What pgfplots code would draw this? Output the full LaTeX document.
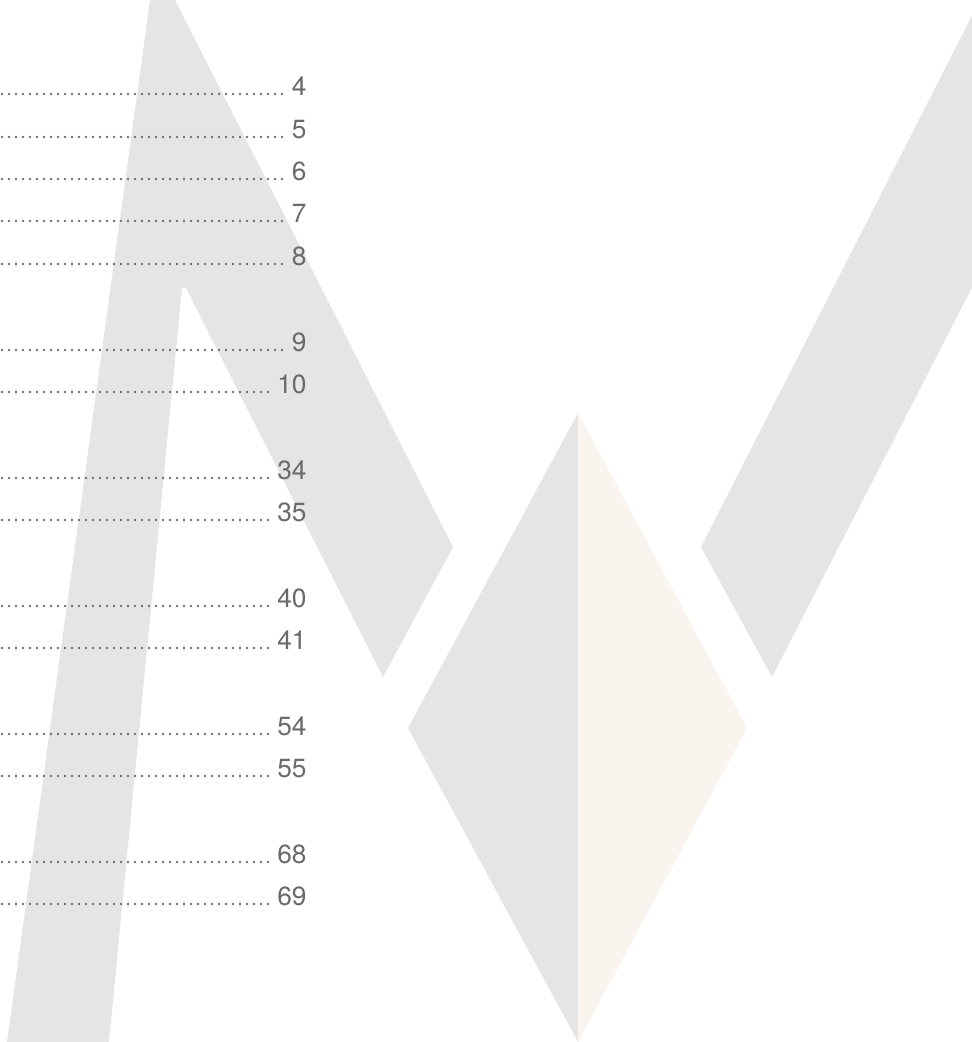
\documentclass[border=0pt]{standalone}
\usepackage{fontspec}
\setmainfont{TeX Gyre Heros}
\usepackage{pgfplots}
\pgfplotsset{compat=1.18}
\definecolor{shapegray}{HTML}{E5E5E5}
\definecolor{shapecream}{HTML}{F9F5EE}
\definecolor{numcol}{HTML}{6A6A6A}
\definecolor{dotcol}{HTML}{6E6E6E}
\newcommand{\leader}[3]{%
  \addplot[draw=dotcol, line width=1.35bp, line cap=round, dash pattern=on 0pt off 3.5bp, forget plot]
    coordinates {(2,#1+8) (#2,#1+8)};
  \node[anchor=base east, font=\fontsize{13.2}{15}\selectfont, text=numcol, inner sep=0pt]
    at (axis cs:307,#1+9) {#3};
}
\begin{document}
\begin{tikzpicture}
\begin{axis}[
  scale only axis, width=486bp, height=521bp,
  xmin=0, xmax=972, ymin=0, ymax=1042, y dir=reverse,
  hide axis, clip=true,
]
% left "A"-like shape
\addplot[fill=shapegray, draw=none] coordinates {
  (150,0) (175,0) (453,547) (383,677) (186,288) (182,288) (109,1042) (7,1042)
} -- cycle;
% diamond, left half grey
\addplot[fill=shapegray, draw=none] coordinates {
  (578,413) (578,1042) (408,728)
} -- cycle;
% diamond, right half cream
\addplot[fill=shapecream, draw=none] coordinates {
  (578,413) (747,728) (578,1042)
} -- cycle;
% right band
\addplot[fill=shapegray, draw=none] coordinates {
  (980,0) (980,272) (772,677) (701,547)
} -- cycle;
% leaders and page numbers
\leader{86}{287}{4}
\leader{129}{287}{5}
\leader{171}{287}{6}
\leader{213}{287}{7}
\leader{256}{287}{8}
\leader{342}{287}{9}
\leader{384}{272}{10}
\leader{470}{272}{34}
\leader{512}{272}{35}
\leader{598}{272}{40}
\leader{640}{272}{41}
\leader{726}{272}{54}
\leader{768}{272}{55}
\leader{854}{272}{68}
\leader{896}{272}{69}
\end{axis}
\pgfresetboundingbox
\useasboundingbox (current axis.south west) rectangle (current axis.north east);
\end{tikzpicture}
\end{document}
